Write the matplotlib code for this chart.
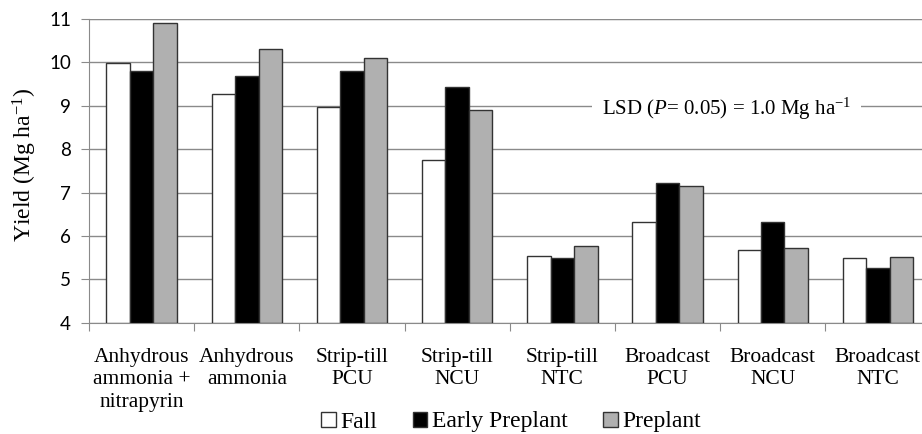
import numpy as np
import matplotlib as mpl
mpl.use('Agg')
import matplotlib.pyplot as plt
from matplotlib.patches import Patch

# data
categories = ['Anhydrous\nammonia +\nnitrapyrin', 'Anhydrous\nammonia', 'Strip-till\nPCU', 'Strip-till\nNCU',
              'Strip-till\nNTC', 'Broadcast\nPCU', 'Broadcast\nNCU', 'Broadcast\nNTC']
fall = [9.98, 9.28, 8.97, 7.74, 5.53, 6.32, 5.68, 5.50]
early_preplant = [9.81, 9.68, 9.79, 9.43, 5.50, 7.23, 6.31, 5.26]
preplant = [10.90, 10.32, 10.11, 8.91, 5.77, 7.14, 5.73, 5.51]
series_names = ['Fall', 'Early Preplant', 'Preplant']
series_colors = ['white', 'black', '#b0b0b0']

serif = 'Liberation Serif'
sans = 'Lato'
plt.rcParams['mathtext.fontset'] = 'custom'
plt.rcParams['mathtext.rm'] = serif
plt.rcParams['mathtext.it'] = serif + ':italic'

fig = plt.figure(figsize=(9.22, 4.34), dpi=100)
# axes runs a bit past the right edge, like the original
ax = fig.add_axes([89/922, 1 - 322.7/434, (930.5 - 89)/922, (322.7 - 19)/434])

x = np.arange(len(categories))
w = 0.223
for k, vals in enumerate([fall, early_preplant, preplant]):
    ax.bar(x + (k - 1)*w, np.array(vals) - 4, bottom=4, width=w, color=series_colors[k],
           edgecolor='#333333', linewidth=1.0, zorder=3)

ax.set_ylim(4, 11)
ax.set_xlim(-0.5, len(categories) - 0.5)
ax.set_yticks(np.arange(4, 12, 1))
ax.grid(axis='y', color='#8a8a8a', linewidth=1.0, zorder=0)
ax.tick_params(axis='y', length=6, color='#8a8a8a', labelsize=13.5, pad=7)
for lab in ax.get_yticklabels():
    lab.set_fontfamily(sans)

# boundary ticks on x, labels at centres
ax.set_xticks(np.arange(-0.5, len(categories), 1))
ax.set_xticklabels([])
ax.tick_params(axis='x', which='major', length=6, color='#8a8a8a')
ax.set_xticks(x, minor=True)
ax.set_xticklabels(categories, minor=True, fontfamily=serif, fontsize=15.5, linespacing=1.25)
ax.tick_params(axis='x', which='minor', length=0, pad=18)

for s in ['top', 'right']:
    ax.spines[s].set_visible(False)
ax.spines['left'].set_color('#8a8a8a')
ax.spines['bottom'].set_color('#8a8a8a')
ax.axhline(11, color='#6a6a6a', linewidth=1.5, zorder=1)

fig.text(25/922, 1 - 165/434, 'Yield (Mg ha$^{-1}$)', rotation=90, fontfamily=serif, fontsize=17,
         ha='center', va='center')

ax.text(0.758, 8.93, 'LSD ($P$= 0.05) = 1.0 Mg ha$^{-1}$', transform=ax.get_yaxis_transform(),
        fontfamily=serif, fontsize=15, ha='center', va='center', zorder=2,
        bbox=dict(facecolor='white', edgecolor='none', pad=7))

handles = [Patch(facecolor=c, edgecolor='#333333', linewidth=1.0) for c in series_colors]
fig.legend(handles, series_names, loc='center', bbox_to_anchor=(511/922, 1 - 422/434), ncol=3,
           frameon=False, prop={'family': serif, 'size': 17}, handlelength=0.62, handleheight=0.62,
           handletextpad=0.2, columnspacing=1.5)

fig.savefig('out.png', dpi=100)
